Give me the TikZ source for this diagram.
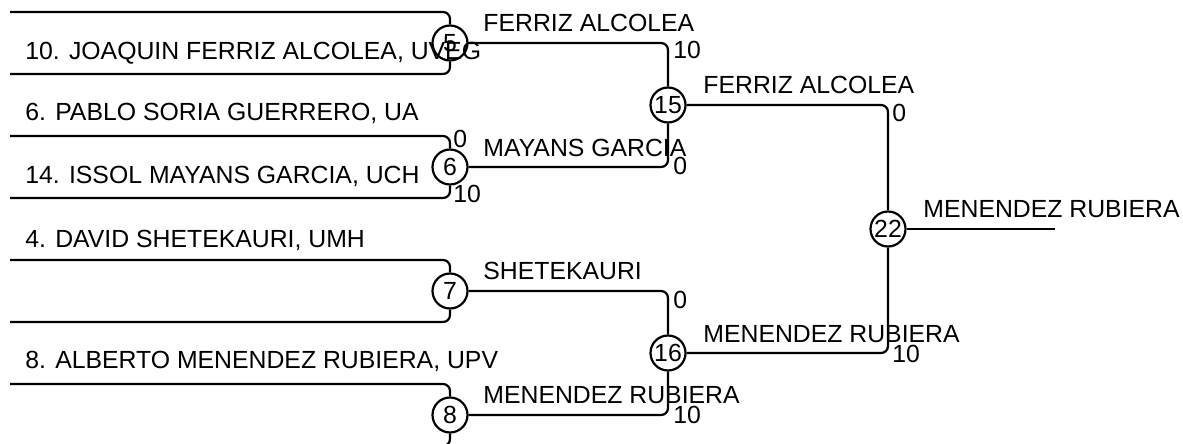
\documentclass[tikz,border=0pt]{standalone}
\usepackage{fontspec}
\setmainfont{Liberation Sans}
\usepackage{tikz}
\usetikzlibrary{calc,positioning}
\tikzset{
    game/.style = {draw, circle, line width=1.1pt,
        minimum size=17.5pt, inner sep=0pt},
    entrant/.style = {anchor=base west, inner sep=0pt},
    winner/.style = {anchor=base west, inner sep=0pt},
    score/.style = {anchor=base west, inner sep=0pt},
    bracket/.style = {draw, line width=1.1pt, rounded corners=3.5pt}
}
\begin{document}
\begin{tikzpicture}[x=0.5pt,y=-0.5pt,font=\fontsize{12.4}{14}\selectfont]
        \useasboundingbox (0,0) rectangle (1183,444);
        \node [game] (g5) at (450,43) {5};
        \node [game] (g6) at (450,167) {6};
        \node [game] (g7) at (450,291) {7};
        \node [game] (g8) at (450,415) {8};
        \node [game] (g15) at (668,105) {15};
        \node [game] (g16) at (668,353) {16};
        \node [game] (g22) at (888,229) {22};
        \coordinate (s1) at (10,12);
        \coordinate (s2) at (10,74);
        \coordinate (s3) at (10,136);
        \coordinate (s4) at (10,198);
        \coordinate (s5) at (10,260);
        \coordinate (s6) at (10,322);
        \coordinate (s7) at (10,384);
        \coordinate (s8) at (10,446);
        \coordinate (fin) at (1055,229);
        \draw [bracket] (s1) -| (g5);
        \draw [bracket] (s2) -| (g5);
        \draw [bracket] (s3) -| (g6);
        \draw [bracket] (s4) -| (g6);
        \draw [bracket] (s5) -| (g7);
        \draw [bracket] (s6) -| (g7);
        \draw [bracket] (s7) -| (g8);
        \draw [bracket] (s8) -| (g8);
        \draw [bracket] (g5) -| (g15);
        \draw [bracket] (g6) -| (g15);
        \draw [bracket] (g7) -| (g16);
        \draw [bracket] (g8) -| (g16);
        \draw [bracket] (g15) -| (g22);
        \draw [bracket] (g16) -| (g22);
        \draw [bracket] (g22) -- (fin);
        \node [entrant] (p10) at (25,60) {10. JOAQUIN FERRIZ ALCOLEA, UVEG};
        \node [entrant] (p6) at (25,120) {6. PABLO SORIA GUERRERO, UA};
        \node [entrant] (p14) at (25,184) {14. ISSOL MAYANS GARCIA, UCH};
        \node [entrant] (p4) at (25,247) {4. DAVID SHETEKAURI, UMH};
        \node [entrant] (p8) at (25,368) {8. ALBERTO MENENDEZ RUBIERA, UPV};
        \node [winner] (w5) at (483,32) {FERRIZ ALCOLEA};
        \node [winner] (w6) at (483,156) {MAYANS GARCIA};
        \node [winner] (w7) at (483,279) {SHETEKAURI};
        \node [winner] (w8) at (483,403) {MENENDEZ RUBIERA};
        \node [winner] (w15) at (703,94) {FERRIZ ALCOLEA};
        \node [winner] (w16) at (703,342) {MENENDEZ RUBIERA};
        \node [winner] (w22) at (923,217) {MENENDEZ RUBIERA};
        \node [score] (r6a) at (453,148) {0};
        \node [score] (r6b) at (453,202) {10};
        \node [score] (r15a) at (673,59) {10};
        \node [score] (r15b) at (673,174) {0};
        \node [score] (r16a) at (673,308) {0};
        \node [score] (r16b) at (673,423) {10};
        \node [score] (r22a) at (892,121) {0};
        \node [score] (r22b) at (892,362) {10};
    \end{tikzpicture}
\end{document}
